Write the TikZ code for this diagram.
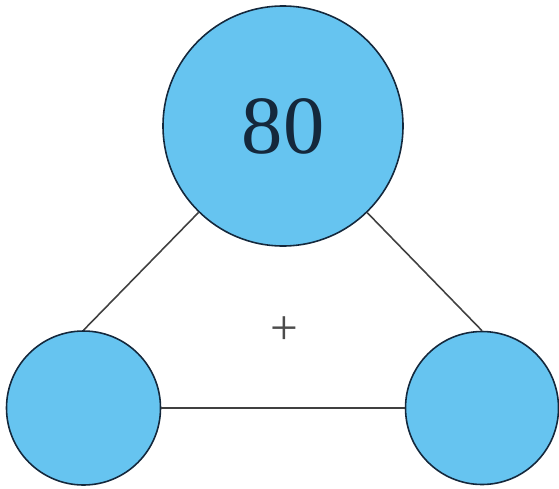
\documentclass[tikz,border=0pt]{standalone}
\usepackage{fontspec}
\setmainfont{Liberation Serif}
\usepackage{tikz}
\usetikzlibrary{calc}

\definecolor{ballblue}{RGB}{102,196,240}
\definecolor{rimblue}{RGB}{20,40,60}

\begin{document}
\begin{tikzpicture}[scale=1,
  ball/.style={circle,draw=rimblue,line width=0.9pt,fill=ballblue,inner sep=0pt},
  link/.style={draw=black!75,line width=0.9pt}]

\useasboundingbox (0,0) rectangle (11.18,-9.76);

% Top circle with the sum
\node[ball,minimum size=4.8cm,text=rimblue] (top) at (5.66,-2.52)
  {\fontsize{47}{50}\selectfont 80};

% Two empty circles at the bottom
\node[ball,minimum size=3.08cm] (left) at (1.67,-8.16) {};
\node[ball,minimum size=3.06cm] (right) at (9.64,-8.16) {};

% Links between circles
\draw[link] (top) -- (left.north);
\draw[link] (top) -- (right.north);
\draw[link] (left) -- (right);

% Plus sign in the middle
\node[text=black!70] (plus) at (5.68,-6.62) {\fontsize{28}{30}\selectfont +};

\end{tikzpicture}
\end{document}
